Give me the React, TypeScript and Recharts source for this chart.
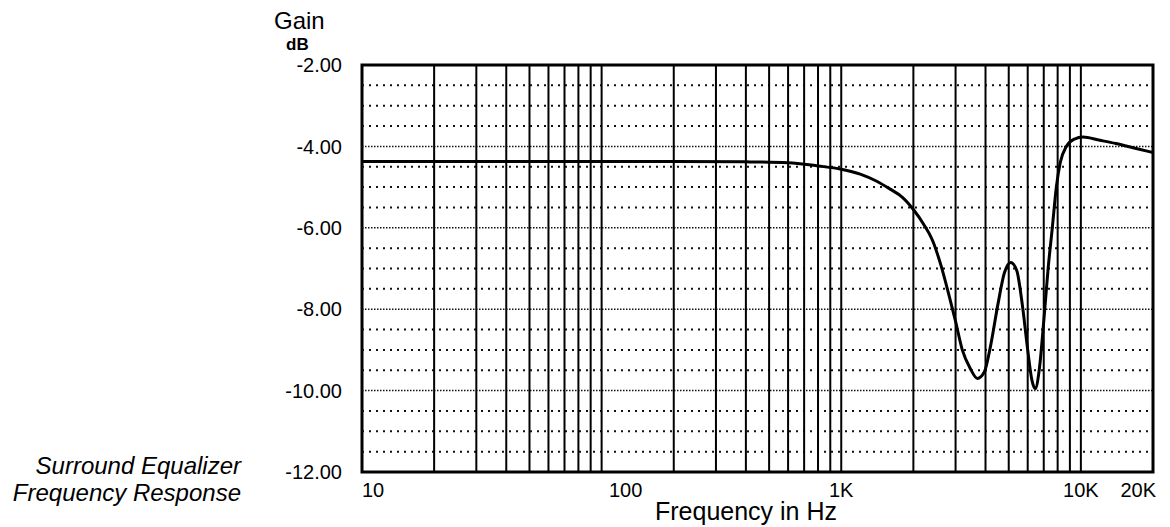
import React from 'react';
import { LineChart, Line, XAxis, YAxis, ReferenceLine, ReferenceArea } from 'recharts';

// frequency in Hz, gain in dB
const freqs = [10, 20, 50, 100, 200, 400, 600, 800, 1000, 1200, 1400, 1600, 1800, 2000, 2200, 2400, 2600, 2800, 3000, 3200, 3450, 3700, 3950, 4200, 4500, 4800, 5100, 5400, 5700, 6000, 6250, 6450, 6700, 7000, 7300, 7600, 7900, 8200, 8700, 9400, 10200, 12000, 14000, 17000, 20000];
const gains = [-4.37, -4.37, -4.37, -4.37, -4.37, -4.38, -4.4, -4.48, -4.56, -4.68, -4.85, -5.05, -5.25, -5.55, -5.9, -6.3, -6.9, -7.6, -8.3, -9.0, -9.45, -9.7, -9.55, -8.9, -7.9, -7.1, -6.85, -7.05, -7.9, -9.0, -9.75, -9.95, -9.5, -8.3, -7.0, -6.0, -5.0, -4.4, -4.0, -3.82, -3.77, -3.85, -3.93, -4.05, -4.15];

const xTicks = [10, 100, 1000, 10000, 20000];
const xTickLabels = ['10', '100', '1K', '10K', '20K'];
const yTicks = [-2, -4, -6, -8, -10, -12];
const vLines = [20, 30, 40, 50, 60, 70, 80, 90, 100, 200, 300, 400, 500, 600, 700, 800, 900, 1000, 2000, 3000, 4000, 5000, 6000, 7000, 8000, 9000, 10000];
const hMajor = [-4, -6, -8, -10];
const hMinor = [-2.5, -3, -3.5, -4.5, -5, -5.5, -6.5, -7, -7.5, -8.5, -9, -9.5, -10.5, -11, -11.5];

const data = freqs.map((f, i) => ({ f, g: gains[i] }));
const font = '"Liberation Sans", Arial, Helvetica, sans-serif';

const XTick = (props: any) => {
  const { x, y, payload } = props;
  const i = xTicks.indexOf(payload.value);
  let anchor = 'middle';
  let dx = 0;
  if (payload.value === 10) anchor = 'start';
  if (payload.value === 20000) { anchor = 'end'; dx = 6; }
  if (payload.value === 100) dx = 24;
  return (
    <text x={x + dx} y={y} dy="0.71em" textAnchor={anchor} fontSize={20} fontFamily={font} fill="#000">
      {xTickLabels[i]}
    </text>
  );
};

const YTick = (props: any) => {
  const { x, y, payload } = props;
  return (
    <text x={x} y={y} dy="0.36em" textAnchor="end" fontSize={20} fontFamily={font} fill="#000">
      {payload.value.toFixed(2)}
    </text>
  );
};

export default function App() {
  return (
    <div style={{ position: 'relative', width: 1170, height: 527, background: '#fff', fontFamily: font }}>
      <style>{'body{margin:0}'}</style>
      <LineChart width={1170} height={527} data={data} margin={{ top: 65, right: 17, bottom: 25, left: 302 }}>
        <XAxis
          dataKey="f"
          type="number"
          scale="log"
          domain={[10, 20000]}
          allowDataOverflow
          ticks={xTicks}
          tick={<XTick />}
          tickLine={false}
          axisLine={false}
          tickSize={0}
          tickMargin={11}
          height={30}
        />
        <YAxis
          type="number"
          domain={[-12, -2]}
          ticks={yTicks}
          tick={<YTick />}
          tickLine={false}
          axisLine={false}
          tickSize={0}
          tickMargin={20}
          width={60}
        />
        {hMinor.map((v) => (
          <ReferenceLine key={'m' + v} y={v} stroke="#111" strokeWidth={2} strokeDasharray="2 5" />
        ))}
        {hMajor.map((v) => (
          <ReferenceLine key={'M' + v} y={v} stroke="#111" strokeWidth={1.5} strokeDasharray="1.5 1.5" />
        ))}
        {vLines.map((f) => (
          <ReferenceLine key={'v' + f} x={f} stroke="#000" strokeWidth={2} />
        ))}
        <ReferenceArea x1={10} x2={20000} y1={-12} y2={-2} fill="none" stroke="#000" strokeWidth={3} />
        <Line dataKey="g" type="monotone" stroke="#000" strokeWidth={3} dot={false} isAnimationActive={false} />
      </LineChart>
      <div style={{ position: 'absolute', left: 274, top: 7, fontSize: 24, lineHeight: '28px' }}>Gain</div>
      <div style={{ position: 'absolute', left: 286, top: 36, fontSize: 17, lineHeight: '18px', fontWeight: 600 }}>dB</div>
      <div style={{ position: 'absolute', left: 650, top: 496, width: 192, textAlign: 'center', fontSize: 25, lineHeight: '30px', whiteSpace: 'nowrap' }}>
        Frequency in Hz
      </div>
      <div style={{ position: 'absolute', right: 1170 - 241, top: 452, textAlign: 'right', fontSize: 24, lineHeight: '27px', fontStyle: 'italic', whiteSpace: 'nowrap' }}>
        Surround Equalizer<br />Frequency Response
      </div>
    </div>
  );
}
